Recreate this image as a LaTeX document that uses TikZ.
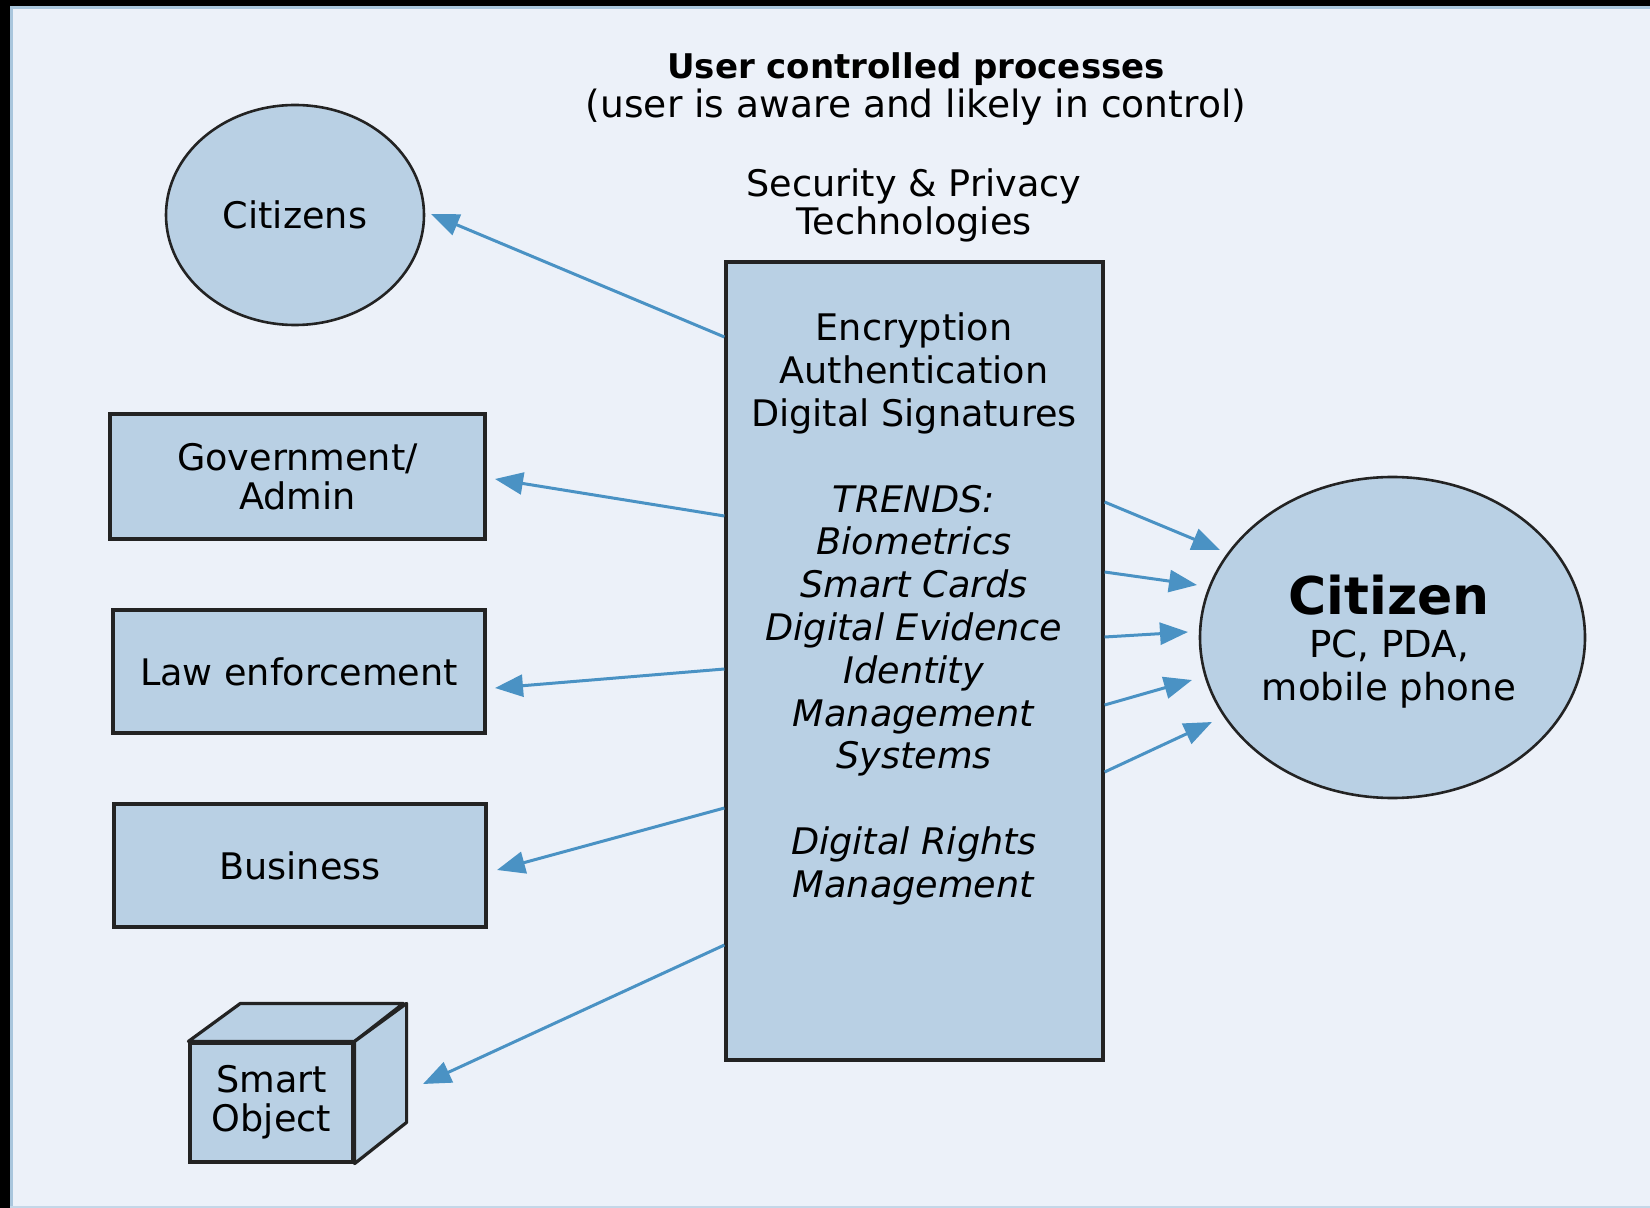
\documentclass[tikz,border=0pt]{standalone}
\usepackage{fontspec}
\setmainfont{DejaVu Sans}
\usetikzlibrary{arrows.meta,shapes.geometric}
\definecolor{bgc}{RGB}{236,241,249}
\definecolor{fillc}{RGB}{185,208,228}
\definecolor{arrc}{RGB}{74,146,196}
\definecolor{edgec}{RGB}{169,198,221}
\definecolor{linec}{RGB}{35,35,35}
\tikzset{
  txt/.style={font=\fontsize{18.3}{19.5}\selectfont, align=center, inner sep=0pt},
  ell/.style={ellipse, draw=linec, line width=1.3pt, fill=fillc, inner sep=0pt, align=center},
  rbox/.style={rectangle, draw=linec, line width=1.6pt, fill=fillc, inner sep=0pt, align=center,
     font=\fontsize{18.3}{19.5}\selectfont},
  conn/.style={draw=arrc, line width=1.5pt, -{Triangle[length=14pt,width=11pt]}}
}
\begin{document}
\begin{tikzpicture}[x=0.5pt,y=-0.5pt]
\useasboundingbox (0,0) rectangle (1650,1208);
\fill[black] (0,0) rectangle (1650,1208);
\fill[bgc] (10,7) rectangle (1650,1208);
\draw[edgec, line width=1.5pt] (11,1208) -- (11,8) -- (1650,8);
\draw[edgec!60!bgc, line width=1pt] (10,1207) -- (1650,1207);

% title
\node[txt, font=\fontsize{18.8}{19.5}\selectfont] (title) at (916,89)
  {{\fontsize{17}{19.5}\selectfont\bfseries User controlled processes}\\(user is aware and likely in control)};
\node[txt, font=\fontsize{18.3}{19}\selectfont] (sp) at (914,205)
  {Security \& Privacy\\Technologies};

% left nodes
\node[ell, minimum width=129pt, minimum height=110pt, font=\fontsize{18.3}{19.5}\selectfont] (cits) at (295,215) {Citizens};
\node[rbox, minimum width=187.5pt, minimum height=62.5pt] (gov) at (297.5,476.5) {Government/\\Admin};
\node[rbox, minimum width=186pt, minimum height=61.5pt] (law) at (299,671.5) {Law enforcement};
\node[rbox, minimum width=186pt, minimum height=61.5pt] (bus) at (300,865.5) {Business};

% smart object cube
\node[rbox, minimum width=81.5pt, minimum height=59.5pt] (so) at (271.5,1102.5) {Smart\\Object};
\draw[linec, line width=1.6pt, fill=fillc, line join=round]
  (so.north west) -- ++(52,-38) -- ++(163,0) -- (so.north east) -- cycle;
\draw[linec, line width=1.6pt, fill=fillc, line join=round]
  (so.north east) -- ++(52,-38) -- ++(0,119) -- (so.south east) -- cycle;

% centre box
\node[rectangle, draw=linec, line width=1.6pt, fill=fillc, minimum width=188.5pt, minimum height=399pt, inner sep=0pt] (box) at (914.5,661) {};
\node[txt, font=\fontsize{18.3}{21.4}\selectfont] (boxtxt) at (914,609)
  {Encryption\\Authentication\\Digital Signatures\\[21.4pt]
   \textit{TRENDS:}\\\textit{Biometrics}\\\textit{Smart Cards}\\\textit{Digital Evidence}\\
   \textit{Identity}\\\textit{Management}\\\textit{Systems}\\[21.4pt]
   \textit{Digital Rights}\\\textit{Management}};

% citizen
\node[ell, minimum width=192.5pt, minimum height=160.5pt] (cit) at (1392.5,637.5) {};
\node[txt, font=\fontsize{18.6}{21.5}\selectfont] (cittxt) at (1389,642)
  {{\fontsize{26}{26}\selectfont\bfseries Citizen}\\PC, PDA,\\mobile phone};

% connector end points
\coordinate (a1) at (box.west |- 0,337);
\coordinate (a2) at (box.west |- 0,516);
\coordinate (a3) at (box.west |- 0,669);
\coordinate (a4) at (box.west |- 0,808);
\coordinate (a5) at (box.west |- 0,945);
\coordinate (t1) at (431,214);
\coordinate (t2) at (495,479);
\coordinate (t3) at (495,688);
\coordinate (t4) at (497,870);
\coordinate (t5) at (423,1084);
\coordinate (b1) at (box.east |- 0,502);
\coordinate (b2) at (box.east |- 0,572);
\coordinate (b3) at (box.east |- 0,637);
\coordinate (b4) at (box.east |- 0,705);
\coordinate (b5) at (box.east |- 0,772);
\coordinate (u1) at (1220,550);
\coordinate (u2) at (1197,585);
\coordinate (u3) at (1188,632);
\coordinate (u4) at (1192,680);
\coordinate (u5) at (1212,722);

\foreach \i in {1,...,5} {
  \draw[conn] (a\i) -- (t\i);
  \draw[conn] (b\i) -- (u\i);
}
\end{tikzpicture}
\end{document}
